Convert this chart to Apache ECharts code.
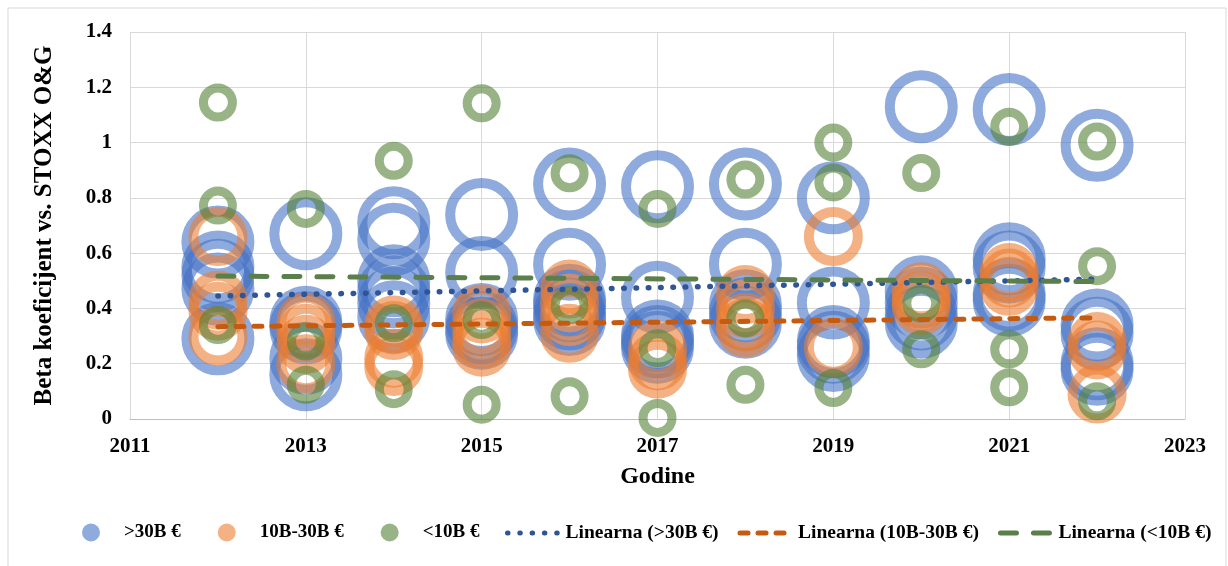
<!DOCTYPE html>
<html>
<head>
<meta charset="utf-8">
<script src="https://cdn.jsdelivr.net/npm/echarts@6/dist/echarts.min.js"></script>
<style>
  html, body { margin: 0; padding: 0; background: #fff; }
  #chart { width: 1228px; height: 566px; }
</style>
</head>
<body>
<div id="chart"></div>
<script>
// years on the x axis
const years = [2012, 2013, 2014, 2015, 2016, 2017, 2018, 2019, 2020, 2021, 2022];

// beta values per year, >30B €
const large = [
  [0.64, 0.55, 0.52, 0.47, 0.29],
  [0.67, 0.35, 0.33, 0.22, 0.16],
  [0.71, 0.65, 0.50, 0.46, 0.42, 0.37],
  [0.74, 0.53, 0.36, 0.33, 0.31],
  [0.85, 0.56, 0.43, 0.41, 0.38, 0.36],
  [0.84, 0.44, 0.30, 0.28, 0.26],
  [0.85, 0.56, 0.41, 0.38, 0.35],
  [0.80, 0.42, 0.28, 0.26, 0.23],
  [1.13, 0.46, 0.42, 0.38, 0.35],
  [1.12, 0.58, 0.55, 0.45, 0.43],
  [0.99, 0.34, 0.31, 0.20, 0.18]
];

// 10B-30B €
const medium = [
  [0.66, 0.43, 0.39, 0.30],
  [0.35, 0.31, 0.27, 0.20],
  [0.34, 0.32, 0.22, 0.19],
  [0.38, 0.33, 0.29, 0.26],
  [0.47, 0.42, 0.37, 0.31],
  [0.25, 0.21, 0.18],
  [0.45, 0.40, 0.35, 0.33],
  [0.66, 0.26],
  [0.46, 0.43, 0.41],
  [0.53, 0.51, 0.48],
  [0.28, 0.25, 0.09]
];

// <10B €
const small = [
  [1.145, 0.772, 0.34],
  [0.76, 0.28, 0.124],
  [0.934, 0.346, 0.108],
  [1.142, 0.358, 0.052],
  [0.889, 0.412, 0.082],
  [0.76, 0.256, 0.004],
  [0.866, 0.364, 0.124],
  [1.0, 0.856, 0.112],
  [0.89, 0.418, 0.252],
  [1.057, 0.252, 0.115],
  [1.004, 0.553, 0.064]
];

// trend line end points
const trendYears = [2012, 2022];
const trendLarge = [0.445, 0.506];
const trendMedium = [0.334, 0.366];
const trendSmall = [0.517, 0.497];

const names = ['>30B €', '10B-30B €', '<10B €'];
const trendNames = ['Linearna (>30B €)', 'Linearna (10B-30B €)', 'Linearna (<10B €)'];
const trendColors = ['#2F5597', '#C55A11', '#5B7F4A'];
const trendDash = [[0.5, 11.8], [8, 10], [16, 17]];

const font = "'Liberation Serif', 'Times New Roman', serif";

function points(groups) {
  const out = [];
  groups.forEach((vals, i) => vals.forEach(v => out.push([years[i], v])));
  return out;
}
function trend(vals) {
  return trendYears.map((y, i) => [y, vals[i]]);
}

function ring(name, data, size, border, color) {
  return {
    name: name,
    type: 'scatter',
    data: data,
    symbol: 'circle',
    symbolSize: size,
    itemStyle: { color: 'rgba(0,0,0,0)', borderColor: color, borderWidth: border, opacity: 0.6 },
    emphasis: { disabled: true },
    z: 2
  };
}

function trendLine(i, data, width) {
  return {
    name: trendNames[i],
    type: 'line',
    data: data,
    symbol: 'none',
    itemStyle: { color: trendColors[i] },
    lineStyle: { color: trendColors[i], width: width, type: trendDash[i], cap: 'round' },
    emphasis: { disabled: true },
    z: 5
  };
}

const chart = echarts.init(document.getElementById('chart'));
chart.setOption({
  animation: false,
  backgroundColor: '#fff',
  graphic: [{
    type: 'rect',
    shape: { x: 8, y: 8, width: 1218, height: 600 },
    style: { fill: 'none', stroke: '#d9d9d9', lineWidth: 1 },
    silent: true
  }],
  grid: { left: 130, right: 43, top: 32, bottom: 147 },
  xAxis: {
    type: 'value',
    min: 2011, max: 2023, interval: 2,
    name: 'Godine',
    nameLocation: 'middle',
    nameGap: 46,
    nameTextStyle: { fontFamily: font, fontWeight: 'bold', fontSize: 24, color: '#000' },
    axisLine: { lineStyle: { color: '#bfbfbf' } },
    axisTick: { show: false },
    axisLabel: { fontFamily: font, fontWeight: 'bold', fontSize: 21, color: '#000', margin: 17, formatter: v => String(v) },
    splitLine: { show: true, lineStyle: { color: '#d9d9d9' } }
  },
  yAxis: {
    type: 'value',
    min: 0, max: 1.4, interval: 0.2,
    name: 'Beta koeficijent vs. STOXX O&G',
    nameLocation: 'middle',
    nameGap: 73,
    nameTextStyle: { fontFamily: font, fontWeight: 'bold', fontSize: 25, color: '#000' },
    axisLine: { show: false },
    axisTick: { show: false },
    axisLabel: { fontFamily: font, fontWeight: 'bold', fontSize: 21, color: '#000', margin: 18 },
    splitLine: { show: true, lineStyle: { color: '#d9d9d9' } }
  },
  legend: [{
    left: 77, top: 518,
    itemWidth: 18, itemHeight: 18, itemGap: 37,
    icon: 'circle',
    textStyle: { fontFamily: font, fontWeight: 'bold', fontSize: 19, color: '#000', padding: [0, 0, 0, 19] },
    data: [
      { name: names[0], itemStyle: { color: '#8FAADC', borderWidth: 0, opacity: 1 } },
      { name: names[1], itemStyle: { color: '#F4B183', borderWidth: 0, opacity: 1 } },
      { name: names[2], itemStyle: { color: '#98B486', borderWidth: 0, opacity: 1 } }
    ]
  }, {
    left: 500, top: 518,
    itemWidth: 50, itemHeight: 18, itemGap: 19,
    textStyle: { fontFamily: font, fontWeight: 'bold', fontSize: 19.5, color: '#000', padding: [0, 0, 0, 3] },
    data: trendNames.map((n, i) => ({
      name: n,
      itemStyle: { opacity: 0 },
      lineStyle: { color: trendColors[i], width: 5, type: trendDash[i], cap: 'round' }
    }))
  }],
  series: [
    ring(names[0], points(large), 63, 10, '#4472C4'),
    ring(names[1], points(medium), 49, 10, '#ED7D31'),
    ring(names[2], points(small), 29, 9, '#548235'),
    trendLine(0, trend(trendLarge), 5.5),
    trendLine(1, trend(trendMedium), 5),
    trendLine(2, trend(trendSmall), 5)
  ]
});
</script>
</body>
</html>
